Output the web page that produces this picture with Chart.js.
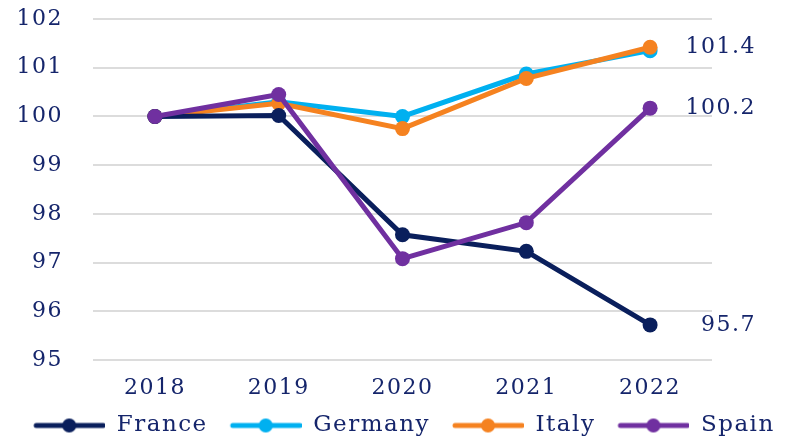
<!DOCTYPE html>
<html>
<head>
<meta charset="utf-8">
<script src="https://cdn.jsdelivr.net/npm/chart.js@4"></script>
<style>
  html, body { margin: 0; padding: 0; background: #fff; }
  #wrap { width: 788px; height: 437px; }
</style>
</head>
<body>
<div id="wrap"><canvas id="chart"></canvas></div>
<script>
// Data
const years = ['2018', '2019', '2020', '2021', '2022'];
const france = [100, 100.02, 97.57, 97.23, 95.72];
const germany = [100, 100.3, 100.0, 100.87, 101.35];
const italy = [100, 100.27, 99.75, 100.78, 101.42];
const spain = [100, 100.45, 97.08, 97.82, 100.17];
const yTicks = [95, 96, 97, 98, 99, 100, 101, 102];
// end-of-line labels: [series name, text]
const endLabels = [['Italy', '101.4'], ['Spain', '100.2'], ['France', '95.7']];

const textColor = '#15256b';
const serif = '"DejaVu Serif", "Liberation Serif", serif';

// line + dot swatch for the legend (left margin gives the gap between items)
function swatch(color) {
    const c = document.createElement('canvas');
    c.width = 92;
    c.height = 16;
    const g = c.getContext('2d');
    g.strokeStyle = color;
    g.lineWidth = 5;
    g.lineCap = 'round';
    g.beginPath();
    g.moveTo(23, 8);
    g.lineTo(90, 8);
    g.stroke();
    g.fillStyle = color;
    g.beginPath();
    g.arc(56, 8, 7, 0, Math.PI * 2);
    g.fill();
    return c;
}

function series(label, data, color, order) {
    return {
        label: label,
        data: data,
        borderColor: color,
        backgroundColor: color,
        borderWidth: 5,
        pointRadius: 7.5,
        pointHoverRadius: 7.5,
        pointBorderWidth: 0,
        pointStyle: 'circle',
        tension: 0,
        order: order
    };
}

// wider text, closer to the original's Georgia
const spacingPlugin = {
    id: 'spacing',
    beforeLayout(chart) { chart.ctx.letterSpacing = '1.5px'; },
    beforeDraw(chart) { chart.ctx.letterSpacing = '1.5px'; }
};

const endLabelPlugin = {
    id: 'endLabels',
    afterDatasetsDraw(chart) {
        const ctx = chart.ctx;
        ctx.save();
        ctx.font = '22px ' + serif;
        ctx.fillStyle = textColor;
        ctx.textAlign = 'right';
        ctx.textBaseline = 'middle';
        endLabels.forEach(([name, text]) => {
            const i = chart.data.datasets.findIndex(d => d.label === name);
            const pts = chart.getDatasetMeta(i).data;
            const p = pts[pts.length - 1];
            ctx.fillText(text, p.x + 106, p.y);
        });
        ctx.restore();
    }
};

new Chart(document.getElementById('chart'), {
    type: 'line',
    data: {
        labels: years,
        datasets: [
            series('France', france, '#0a1f5c', 1),
            series('Germany', germany, '#00b0f0', 3),
            series('Italy', italy, '#f58220', 2),
            series('Spain', spain, '#7030a0', 0)
        ]
    },
    options: {
        responsive: true,
        maintainAspectRatio: false,
        animation: false,
        // legend box has a fixed extra margin, let it hang past the bottom edge
        layout: { padding: { top: 0, left: 0, right: 0, bottom: -10 } },
        plugins: {
            tooltip: { enabled: false },
            legend: {
                position: 'bottom',
                labels: {
                    usePointStyle: true,
                    pointStyleWidth: 92,
                    boxHeight: 16,
                    padding: 2,
                    color: textColor,
                    font: { family: serif, size: 23, lineHeight: 1 },
                    sort: (a, b) => a.datasetIndex - b.datasetIndex,
                    generateLabels: chart => {
                        const items = Chart.defaults.plugins.legend.labels.generateLabels(chart);
                        items.forEach(it => { it.pointStyle = swatch(it.strokeStyle); });
                        return items;
                    }
                }
            }
        },
        scales: {
            x: {
                offset: true,
                afterFit: s => { s.height = 52; },
                grid: { display: false, drawTicks: false },
                border: { display: false },
                ticks: {
                    color: textColor,
                    font: { family: serif, size: 22 },
                    padding: 15
                }
            },
            y: {
                min: 95,
                max: 102,
                afterFit: s => {
                    s.width = 93;
                    s.paddingTop = 19;
                    s.paddingBottom = 0;
                },
                afterBuildTicks: s => { s.ticks = yTicks.map(v => ({ value: v })); },
                grid: { color: '#dcdcdc', lineWidth: 2, drawTicks: false },
                border: { display: false },
                ticks: {
                    color: textColor,
                    font: { family: serif, size: 22 },
                    padding: 30
                }
            },
            // empty right axis, only reserves room for the end labels
            yr: {
                type: 'linear',
                position: 'right',
                afterFit: s => {
                    s.width = 76;
                    s.paddingTop = 0;
                    s.paddingBottom = 0;
                },
                grid: { display: false, drawTicks: false },
                border: { display: false },
                ticks: { display: false }
            }
        }
    },
    plugins: [spacingPlugin, endLabelPlugin]
});
</script>
</body>
</html>
